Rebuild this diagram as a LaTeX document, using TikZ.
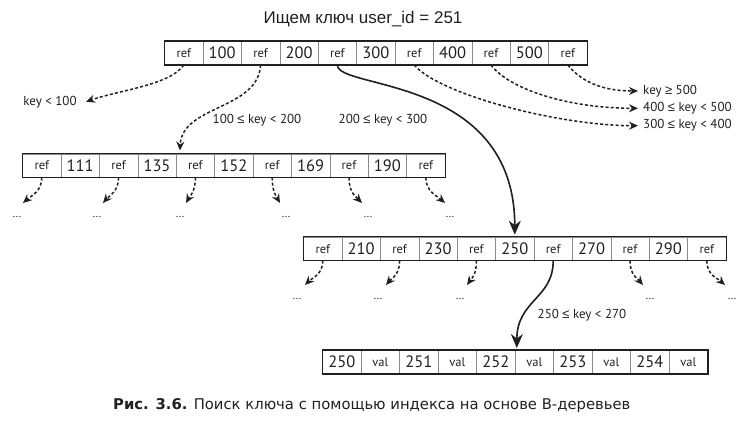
\documentclass[tikz,border=0pt]{standalone}
\usepackage{fontspec}
\setmainfont{PT Sans}
\newfontfamily\titlefont{Liberation Sans}
\newfontfamily\capfont{DejaVu Sans}
\newfontfamily\symfont{Liberation Sans}
\usetikzlibrary{arrows.meta,calc}
\definecolor{ink}{HTML}{231F20}
\definecolor{divider}{HTML}{8A8A8A}
\newcommand\refc{{\fontsize{12.5}{12}\selectfont ref}}
\newcommand\valc{{\fontsize{12.5}{12}\selectfont val}}
\newcommand\myle{{\symfont ≤}}
\newcommand\myge{{\symfont ≥}}
\newcommand\cellrow[5]{%
  \foreach \lab [count=\i] in {#5} {
    \node[cellbox, minimum width=#4, anchor=north west] (#1\i) at ({#2+(\i-1)*#4},#3) {\lab};
  }
}
\begin{document}
\begin{tikzpicture}[x=1pt,y=-1pt,
  cellbox/.style={draw=divider, line width=0.6pt, minimum height=23.4pt, inner sep=0pt,
    font=\fontsize{16.5}{16}\selectfont, text=ink},
  outerbox/.style={draw=ink, line width=1.3pt},
  dasharr/.style={draw=ink, line width=1.5pt, dash pattern=on 3pt off 2.2pt,
    -{Stealth[length=9pt,width=8pt]}},
  mainarr/.style={draw=ink, line width=1.6pt, -{Stealth[length=14pt,width=12pt]}},
  lbl/.style={font=\fontsize{13}{13}\selectfont, text=ink, inner sep=0pt},
  dots/.style={font=\fontsize{11}{11}\selectfont, text=ink, inner sep=0pt}]
\useasboundingbox (0,0) rectangle (749,425);

% title
\node[font=\titlefont\fontsize{17}{17}\selectfont, text=ink] (title) at (363,19) {Ищем ключ user\_id = 251};

% rows
\cellrow{t}{164.3}{41}{38.4}{\refc,100,\refc,200,\refc,300,\refc,400,\refc,500,\refc}
\draw[outerbox] (t1.north west) rectangle (t11.south east);
\cellrow{m}{22.3}{153.5}{38.4}{\refc,111,\refc,135,\refc,152,\refc,169,\refc,190,\refc}
\draw[outerbox] (m1.north west) rectangle (m11.south east);
\cellrow{r}{303.3}{236.7}{38.4}{\refc,210,\refc,230,\refc,250,\refc,270,\refc,290,\refc}
\draw[outerbox] (r1.north west) rectangle (r11.south east);
\cellrow{l}{322.3}{350}{38.5}{250,\valc,251,\valc,252,\valc,253,\valc,254,\valc}
\draw[outerbox] (l1.north west) rectangle (l10.south east);

% labels
\node[lbl] (k100) at (50,102) {key < 100};
\coordinate (k100e) at (86,101.7);
\node[lbl] (k200) at (257,120) {100 \myle{} key < 200};
\node[lbl] (k300) at (383,120) {200 \myle{} key < 300};
\node[lbl, anchor=west, inner xsep=5pt] (kge) at (638,91) {key \myge{} 500};
\node[lbl, anchor=west, inner xsep=5pt] (k500) at (638,108.3) {400 \myle{} key < 500};
\node[lbl, anchor=west, inner xsep=5pt] (k400) at (638,125.7) {300 \myle{} key < 400};
\node[lbl] (k270) at (582,315) {250 \myle{} key < 270};

% top-level arrows
\draw[dasharr] (t1.south) .. controls (170,85) and (120,90) .. (k100e);
\draw[dasharr] (t3.south) .. controls (258,110) and (182,105) .. ($(m5.north west)+(4,-3)$);
\draw[mainarr] (t5.south) .. controls (337,90) and (514.5,75) .. ($(r6.north)+(0,-2)$);
\draw[dasharr] (t7.south) .. controls (440,95) and (560,125.7) .. (k400.west);
\draw[dasharr] (t9.south) .. controls (510,90) and (570,108.3) .. (k500.west);
\draw[dasharr] (t11.south) .. controls (580,80) and (600,91) .. (kge.west);

% second-level main arrow
\draw[mainarr] (r7.south) .. controls ($(r7.south)+(0,38)$) and (517,300) .. ($(l6.north west)+(2,-2)$);

% dots under rows
\foreach \x/\n in {17/1,97/2,180/3,286/4,368/5,450/6} {
  \node[dots] (md\n) at (\x,217) {...};
}
\foreach \x/\n in {297/1,378/2,460/3,650/4,732/5} {
  \node[dots] (rd\n) at (\x,299) {...};
}
\coordinate (ma1) at (23,203);
\coordinate (ma2) at (103,203);
\coordinate (ma3) at (186,203);
\coordinate (ma4) at (280,203);
\coordinate (ma5) at (362,203);
\coordinate (ma6) at (445,203);
\draw[dasharr] (m1.south) .. controls +(0,14) and +(8,-7) .. (ma1);
\draw[dasharr] (m3.south) .. controls +(0,14) and +(6,-7) .. (ma2);
\draw[dasharr] (m5.south) .. controls +(0,14) and +(4,-7) .. (ma3);
\draw[dasharr] (m7.south) .. controls +(0,14) and +(-4,-7) .. (ma4);
\draw[dasharr] (m9.south) .. controls +(0,14) and +(-7,-7) .. (ma5);
\draw[dasharr] (m11.south) .. controls +(0,14) and +(-8,-7) .. (ma6);

\coordinate (ra1) at (305,285);
\coordinate (ra2) at (386,285);
\coordinate (ra3) at (467,285);
\coordinate (ra5) at (643,285);
\coordinate (ra6) at (725,285);
\draw[dasharr] (r1.south) .. controls +(0,14) and +(7,-7) .. (ra1);
\draw[dasharr] (r3.south) .. controls +(0,14) and +(6,-7) .. (ra2);
\draw[dasharr] (r5.south) .. controls +(0,14) and +(5,-7) .. (ra3);
\draw[dasharr] (r9.south) .. controls +(0,14) and +(-6,-7) .. (ra5);
\draw[dasharr] (r11.south) .. controls +(0,14) and +(-8,-7) .. (ra6);

% caption
\node[anchor=west, inner sep=0pt, text=ink, font=\capfont\fontsize{14.8}{14.8}\selectfont] (cap) at (113,406)
  {\textbf{Рис. 3.6.} Поиск ключа с помощью индекса на основе B-деревьев};
\end{tikzpicture}
\end{document}
